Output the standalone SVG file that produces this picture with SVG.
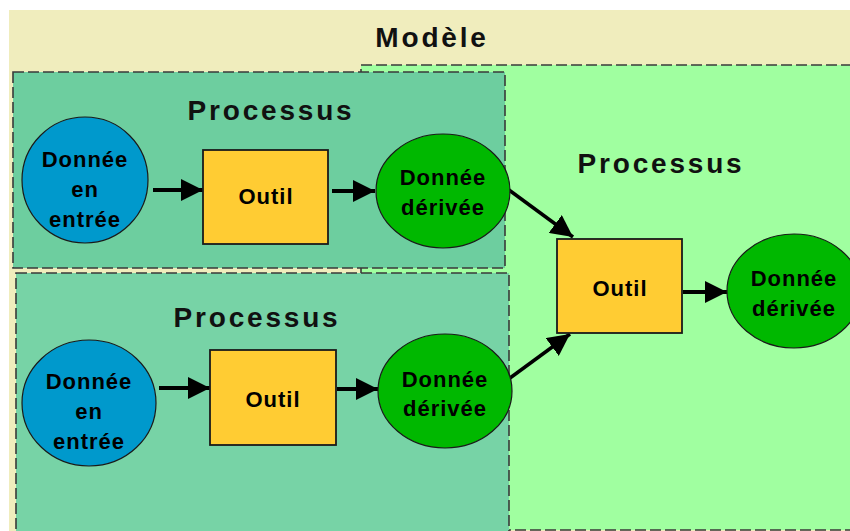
<svg xmlns="http://www.w3.org/2000/svg" width="850" height="531" viewBox="0 0 850 531">
<style>
.frame{stroke:#3a3a3a;stroke-width:1.6;stroke-dasharray:11 4;}
.title{font-family:"Liberation Sans",Arial,sans-serif;font-weight:bold;font-size:28px;letter-spacing:2.8px;fill:#111;text-anchor:middle;}
.lbl{font-family:"Liberation Sans",Arial,sans-serif;font-weight:bold;font-size:22px;letter-spacing:1px;fill:#000;text-anchor:middle;}
.in{fill:#0099CC;stroke:#1a1a1a;stroke-width:1.2;}
.der{fill:#00B800;stroke:#1a1a1a;stroke-width:1.2;}
.tool{fill:#FFCC33;stroke:#1a1a1a;stroke-width:1.8;}
.arr{stroke:#000;stroke-width:4;fill:none;marker-end:url(#ah);}
.arrd{stroke:#000;stroke-width:3.5;fill:none;marker-end:url(#ah);}
</style>
<defs>
<marker id="ah" markerUnits="userSpaceOnUse" markerWidth="24" markerHeight="22" refX="22" refY="11" orient="auto">
<path d="M0,0 L22,11 L0,22 z" fill="#000"/>
</marker>
</defs>
<rect x="0" y="0" width="850" height="531" fill="#ffffff"/>
<g id="modele">
<rect x="9" y="10" width="845" height="525" fill="#F0EDBD"/>
<text class="title" x="432" y="47">Modèle</text>
</g>
<g id="processus-droite">
<rect class="frame" x="361" y="65" width="495" height="465" fill="#A0FFA0"/>
<text class="title" x="661" y="173">Processus</text>
</g>
<g id="processus-haut">
<rect class="frame" x="13" y="72" width="492" height="196" fill="#6DCE9F"/>
<text class="title" x="271" y="120">Processus</text>
</g>
<g id="processus-bas">
<rect class="frame" x="16" y="273" width="493" height="265" fill="#77D3A6"/>
<text class="title" x="257" y="327">Processus</text>
</g>
<g id="connectors">
<line class="arr" x1="153" y1="190" x2="203" y2="190"/>
<line class="arr" x1="332" y1="191" x2="375" y2="191"/>
<line class="arr" x1="159" y1="388" x2="210" y2="388"/>
<line class="arr" x1="337" y1="389" x2="378" y2="389"/>
<line class="arrd" x1="509" y1="190" x2="573" y2="237"/>
<line class="arrd" x1="510" y1="378" x2="570" y2="334"/>
<line class="arr" x1="683" y1="292" x2="727" y2="292"/>
</g>
<g id="entree-haut">
<ellipse class="in" cx="85" cy="180" rx="63" ry="63"/>
<text class="lbl" x="85" y="167">Donnée</text>
<text class="lbl" x="85" y="197">en</text>
<text class="lbl" x="85" y="227">entrée</text>
</g>
<g id="outil-haut">
<rect class="tool" x="203" y="150" width="125" height="94"/>
<text class="lbl" x="266" y="204">Outil</text>
</g>
<g id="derivee-haut">
<ellipse class="der" cx="443" cy="191" rx="67" ry="57"/>
<text class="lbl" x="443" y="185">Donnée</text>
<text class="lbl" x="443" y="215">dérivée</text>
</g>
<g id="entree-bas">
<ellipse class="in" cx="89" cy="403" rx="67" ry="63"/>
<text class="lbl" x="89" y="389">Donnée</text>
<text class="lbl" x="89" y="419">en</text>
<text class="lbl" x="89" y="449">entrée</text>
</g>
<g id="outil-bas">
<rect class="tool" x="210" y="350" width="126" height="95"/>
<text class="lbl" x="273" y="407">Outil</text>
</g>
<g id="derivee-bas">
<ellipse class="der" cx="445" cy="391" rx="67" ry="57"/>
<text class="lbl" x="445" y="387">Donnée</text>
<text class="lbl" x="445" y="416">dérivée</text>
</g>
<g id="outil-droite">
<rect class="tool" x="557" y="239" width="125" height="94"/>
<text class="lbl" x="620" y="296">Outil</text>
</g>
<g id="derivee-droite">
<ellipse class="der" cx="794" cy="291" rx="67" ry="57"/>
<text class="lbl" x="794" y="286">Donnée</text>
<text class="lbl" x="794" y="316">dérivée</text>
</g>
</svg>
